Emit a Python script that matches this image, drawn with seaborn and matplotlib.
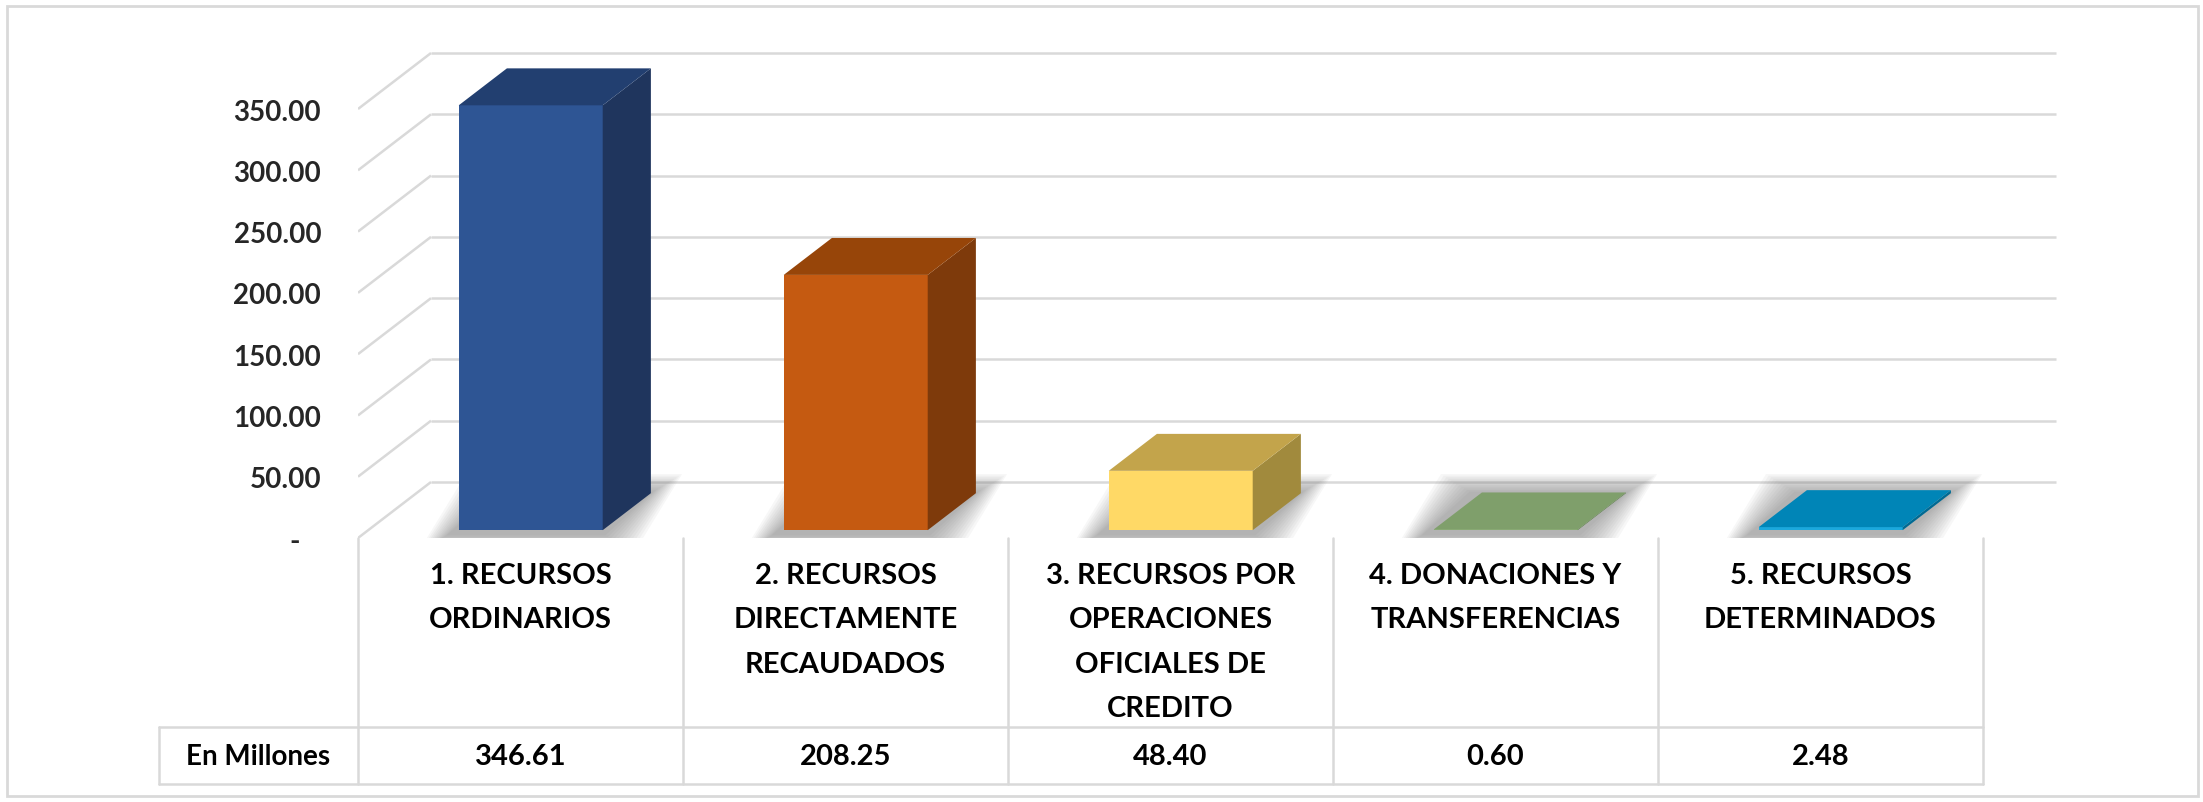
import numpy as np
import pandas as pd
import matplotlib
matplotlib.use("Agg")
import matplotlib.pyplot as plt
import seaborn as sns
from matplotlib.patches import Polygon, Rectangle
from matplotlib.transforms import blended_transform_factory

# datos
categorias = [
    "1. RECURSOS\nORDINARIOS",
    "2. RECURSOS\nDIRECTAMENTE\nRECAUDADOS",
    "3. RECURSOS POR\nOPERACIONES\nOFICIALES DE\nCREDITO",
    "4. DONACIONES Y\nTRANSFERENCIAS",
    "5. RECURSOS\nDETERMINADOS",
]
millones = [346.61, 208.25, 48.40, 0.60, 2.48]
yticks = [0, 50, 100, 150, 200, 250, 300, 350]
fila_titulo = "En Millones"

# colores: frente, arriba, lado
c_frente = ["#2E5594", "#C55A11", "#FFD966", "#8FB27A", "#1CA8DC"]
c_arriba = ["#223F70", "#974509", "#C3A44B", "#7F9F6B", "#0085B7"]
c_lado = ["#1F355D", "#7E3A0B", "#A18A3D", "#5E7F4A", "#006A93"]
gris = "#d9d9d9"

sns.set_style("white")
plt.rcParams["font.family"] = ["Lato", "DejaVu Sans"]
plt.rcParams["font.weight"] = "bold"

W, H = 2203, 803
fig = plt.figure(figsize=(W / 100, H / 100), dpi=100)
fy = lambda y: 1 - y / H

# eje: frente x 358..1984 px, fondo hasta 2063 px; y=0 en 539 px
col_w = 325.0
px_por_u = 1.2257
ax = fig.add_axes([358 / W, fy(539), (2063 - 358) / W, (539 - 40) / H])
DX = 73 / col_w
DY = 56 / px_por_u
D0, DD = 0.14, 0.66

df = pd.DataFrame({"fuente": categorias, "millones": millones})
sns.barplot(data=df, x="fuente", y="millones", hue="fuente", palette=c_frente,
            width=0.443, saturation=1, linewidth=0, legend=False, ax=ax, zorder=3)

ax.set_xlim(-0.5, -0.5 + (2063 - 358) / col_w)
ax.set_ylim(0, (539 - 40) / px_por_u)

# paredes: lineas de cuadricula
for v in yticks:
    ax.plot([-0.5, -0.5 + DX], [v, v + DY], color=gris, lw=1.8, zorder=0, solid_capstyle="butt")
    ax.plot([-0.5 + DX, 4.5 + DX], [v + DY, v + DY], color=gris, lw=1.8, zorder=0, solid_capstyle="butt")

# caras 3D
for i, p in enumerate(ax.patches):
    x0 = p.get_x() + D0 * DX
    w = p.get_width()
    h = p.get_height()
    y0 = D0 * DY
    p.set_x(x0)
    p.set_y(y0)
    x1 = x0 + w
    ddx, ddy = DD * DX, DD * DY
    # sombra suave
    for k in range(12, 0, -1):
        ex, ey = k * 0.008, k * 1.3
        sh = Polygon([(x0 - ex - 0.03, y0 - ey - 3), (x1 + ex, y0 - ey - 3),
                      (x1 + ddx + ex, y0 + ddy + ey), (x0 + ddx - ex - 0.03, y0 + ddy + ey)],
                     closed=True, fc="#6f6f6f", ec="none", alpha=0.055, zorder=1)
        ax.add_patch(sh)
    top = Polygon([(x0, y0 + h), (x1, y0 + h), (x1 + ddx, y0 + h + ddy), (x0 + ddx, y0 + h + ddy)],
                  closed=True, fc=c_arriba[i], ec="none", zorder=4)
    side = Polygon([(x1, y0), (x1, y0 + h), (x1 + ddx, y0 + h + ddy), (x1 + ddx, y0 + ddy)],
                   closed=True, fc=c_lado[i], ec="none", zorder=4)
    ax.add_patch(side)
    ax.add_patch(top)

for s in ax.spines.values():
    s.set_visible(False)
ax.set_xlabel("")
ax.set_ylabel("")
ax.set_xticks([])
ax.set_yticks(yticks)
ax.set_yticklabels(["-   " if v == 0 else f"{v:.2f}" for v in yticks], fontsize=20, fontweight="bold")
ax.tick_params(axis="y", length=0, pad=26.5)

# tabla de datos
tr = blended_transform_factory(ax.transData, fig.transFigure)
x_tab = -0.5 - (358 - 159) / col_w
for i in range(len(categorias) + 1):
    ax.plot([-0.5 + i, -0.5 + i], [fy(539), fy(785)], color=gris, lw=1.8, transform=tr, clip_on=False)
for yy in [728, 785]:
    ax.plot([x_tab, 4.5], [fy(yy), fy(yy)], color=gris, lw=1.8, transform=tr, clip_on=False)
ax.plot([x_tab, x_tab], [fy(728), fy(785)], color=gris, lw=1.8, transform=tr, clip_on=False)

for i, (c, v) in enumerate(zip(categorias, millones)):
    ax.text(i, fy(563), c, transform=tr, ha="center", va="top", fontsize=21,
            fontweight="bold", linespacing=1.88, color="#000000")
    ax.text(i, fy(757), f"{v:.2f}", transform=tr, ha="center", va="center", fontsize=21,
            fontweight="bold", color="#000000")
ax.text((x_tab - 0.5) / 2, fy(757), fila_titulo, transform=tr, ha="center", va="center",
        fontsize=20, fontweight="bold", color="#000000")

# borde exterior
fig.add_artist(Rectangle((7 / W, fy(797)), (2198 - 7) / W, (797 - 7) / H, transform=fig.transFigure,
                         fill=False, ec=gris, lw=2))

fig.savefig("out.png", dpi=100)
